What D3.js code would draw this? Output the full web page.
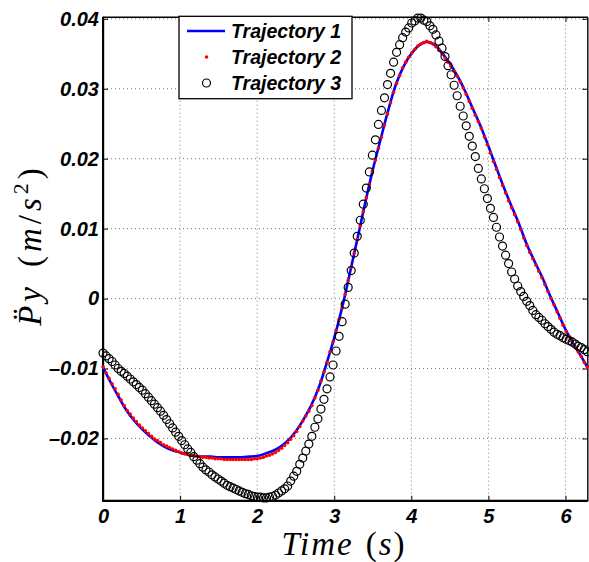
<!DOCTYPE html>
<html>
<head>
<meta charset="utf-8">
<script src="https://d3js.org/d3.v7.min.js"></script>
<style>
body { margin: 0; background: #fff; }
.tick text { font-family: "Liberation Sans", Arial, sans-serif; font-weight: bold; font-style: italic; font-size: 20px; fill: #000; }
</style>
</head>
<body>
<svg width="589" height="562"></svg>
<script>
const xTicks = [0, 1, 2, 3, 4, 5, 6]
const yTicks = [-0.02, -0.01, 0, 0.01, 0.02, 0.03, 0.04]
const yTickLabels = ["\u20130.02", "\u20130.01", "0", "0.01", "0.02", "0.03", "0.04"]
const legendNames = ["Trajectory 1", "Trajectory 2", "Trajectory 3"]

// trajectory 1: one value every 0.1 s, the last one at 2*pi
const traj1 = [
  -0.0098,-0.0120,-0.0140,-0.0159,-0.0174,-0.0186,-0.0196,-0.0205,-0.0212,-0.0217,
  -0.0220,-0.0223,-0.0225,-0.0226,-0.0226,-0.0227,-0.0227,-0.0227,-0.0227,-0.0226,
  -0.0225,-0.0222,-0.0218,-0.0212,-0.0203,-0.0190,-0.0173,-0.0153,-0.0127,-0.0093,
  -0.0056,-0.0014,0.0035,0.0085,0.0136,0.0184,0.0227,0.0269,0.0306,0.0332,
  0.0350,0.0362,0.0367,0.0363,0.0351,0.0336,0.0318,0.0296,0.0271,0.0246,
  0.0218,0.0188,0.0159,0.0132,0.0106,0.0077,0.0053,0.0030,0.0004,-0.0020,
  -0.0044,-0.0064,-0.0082,-0.0098
]

// trajectories 2 and 3: one value every pi/80 s
const traj2 = [
  -0.0098,-0.0106,-0.0114,-0.0122,-0.0129,-0.0137,-0.0145,-0.0153,-0.0160,-0.0165,
  -0.0171,-0.0176,-0.0181,-0.0185,-0.0189,-0.0193,-0.0197,-0.0201,-0.0203,-0.0206,
  -0.0209,-0.0211,-0.0213,-0.0215,-0.0217,-0.0219,-0.0221,-0.0222,-0.0223,-0.0224,
  -0.0225,-0.0225,-0.0226,-0.0227,-0.0227,-0.0228,-0.0228,-0.0229,-0.0229,-0.0229,
  -0.0230,-0.0230,-0.0230,-0.0230,-0.0230,-0.0230,-0.0230,-0.0230,-0.0230,-0.0230,
  -0.0229,-0.0229,-0.0228,-0.0227,-0.0225,-0.0224,-0.0222,-0.0220,-0.0217,-0.0214,
  -0.0210,-0.0206,-0.0201,-0.0196,-0.0190,-0.0183,-0.0175,-0.0168,-0.0161,-0.0153,
  -0.0142,-0.0131,-0.0118,-0.0105,-0.0091,-0.0076,-0.0062,-0.0046,-0.0030,-0.0013,
  0.0006,0.0026,0.0045,0.0065,0.0084,0.0104,0.0124,0.0144,0.0163,0.0182,
  0.0198,0.0215,0.0231,0.0248,0.0264,0.0280,0.0295,0.0308,0.0319,0.0330,
  0.0338,0.0345,0.0351,0.0356,0.0361,0.0364,0.0366,0.0368,0.0366,0.0364,
  0.0360,0.0355,0.0350,0.0344,0.0338,0.0332,0.0325,0.0318,0.0310,0.0301,
  0.0292,0.0282,0.0272,0.0262,0.0253,0.0243,0.0231,0.0220,0.0208,0.0196,
  0.0185,0.0173,0.0162,0.0151,0.0140,0.0130,0.0120,0.0110,0.0099,0.0087,
  0.0076,0.0066,0.0057,0.0048,0.0039,0.0030,0.0020,0.0010,0.0000,-0.0009,
  -0.0019,-0.0028,-0.0038,-0.0047,-0.0054,-0.0061,-0.0069,-0.0076,-0.0083,-0.0091,
  -0.0098
]
const traj3 = [
  -0.0078,-0.0082,-0.0086,-0.0090,-0.0095,-0.0100,-0.0104,-0.0107,-0.0111,-0.0115,
  -0.0119,-0.0123,-0.0127,-0.0131,-0.0136,-0.0141,-0.0146,-0.0151,-0.0156,-0.0161,
  -0.0167,-0.0173,-0.0179,-0.0185,-0.0191,-0.0197,-0.0203,-0.0209,-0.0215,-0.0220,
  -0.0226,-0.0231,-0.0236,-0.0241,-0.0245,-0.0248,-0.0252,-0.0255,-0.0258,-0.0261,
  -0.0264,-0.0267,-0.0269,-0.0271,-0.0273,-0.0275,-0.0277,-0.0279,-0.0280,-0.0282,
  -0.0283,-0.0284,-0.0284,-0.0285,-0.0285,-0.0284,-0.0283,-0.0281,-0.0278,-0.0275,
  -0.0272,-0.0268,-0.0261,-0.0254,-0.0247,-0.0237,-0.0228,-0.0218,-0.0208,-0.0197,
  -0.0184,-0.0172,-0.0158,-0.0144,-0.0129,-0.0112,-0.0095,-0.0075,-0.0054,-0.0033,
  -0.0008,0.0016,0.0040,0.0065,0.0089,0.0112,0.0135,0.0158,0.0181,0.0205,
  0.0227,0.0249,0.0269,0.0287,0.0306,0.0322,0.0338,0.0352,0.0363,0.0373,
  0.0381,0.0387,0.0394,0.0397,0.0401,0.0401,0.0398,0.0396,0.0390,0.0385,
  0.0377,0.0368,0.0358,0.0346,0.0333,0.0320,0.0305,0.0290,0.0275,0.0261,
  0.0247,0.0232,0.0218,0.0203,0.0186,0.0171,0.0157,0.0143,0.0129,0.0116,
  0.0102,0.0088,0.0075,0.0062,0.0050,0.0038,0.0028,0.0018,0.0010,0.0003,
  -0.0004,-0.0010,-0.0017,-0.0023,-0.0027,-0.0031,-0.0036,-0.0040,-0.0044,-0.0048,
  -0.0051,-0.0053,-0.0056,-0.0058,-0.0060,-0.0062,-0.0065,-0.0068,-0.0070,-0.0073,
  -0.0076
]

const tEnd = 2 * Math.PI
const step = Math.PI / 80

const pLeft = 103, pRight = 587.3, pTop = 16.7, pBottom = 500.7

const svg = d3.select("svg")
const x = d3.scaleLinear().domain([0, tEnd]).range([pLeft, pRight])
const y = d3.scaleLinear().domain([-0.0289, 0.0403]).range([pBottom, pTop])

// dotted grid
const grid = svg.append("g")
grid.selectAll(".gx").data(xTicks.slice(1)).enter().append("line")
  .attr("x1", d => x(d)).attr("x2", d => x(d)).attr("y1", pTop).attr("y2", pBottom)
grid.selectAll(".gy").data(yTicks).enter().append("line")
  .attr("x1", pLeft).attr("x2", pRight).attr("y1", d => y(d)).attr("y2", d => y(d))
grid.selectAll("line").attr("stroke", "#7a7a7a").attr("stroke-width", 1).attr("stroke-dasharray", "1,3")

// axes (ticks inside, on all four sides)
const fmtY = d => yTickLabels[yTicks.indexOf(d)]
svg.append("g").attr("transform", "translate(0," + pBottom + ")")
  .call(d3.axisBottom(x).tickValues(xTicks).tickFormat(d3.format("d")).tickSizeInner(-5).tickSizeOuter(0).tickPadding(8))
svg.append("g").attr("transform", "translate(0," + pTop + ")")
  .call(d3.axisTop(x).tickValues(xTicks).tickFormat("").tickSizeInner(-5).tickSizeOuter(0))
svg.append("g").attr("transform", "translate(" + pLeft + ",0)")
  .call(d3.axisLeft(y).tickValues(yTicks).tickFormat(fmtY).tickSizeInner(-5).tickSizeOuter(0).tickPadding(4))
svg.append("g").attr("transform", "translate(" + pRight + ",0)")
  .call(d3.axisRight(y).tickValues(yTicks).tickFormat("").tickSizeInner(-5).tickSizeOuter(0))
svg.selectAll(".domain").attr("stroke", "#000").attr("stroke-width", 1.4)
svg.selectAll(".tick line").attr("stroke", "#000").attr("stroke-width", 1)
svg.append("line").attr("x1", pLeft).attr("x2", pLeft).attr("y1", pTop).attr("y2", pBottom + 1)
  .attr("stroke", "#000").attr("stroke-width", 2)
svg.append("line").attr("x1", pLeft - 1).attr("x2", pRight).attr("y1", pBottom).attr("y2", pBottom)
  .attr("stroke", "#000").attr("stroke-width", 2)

// data
const pts1 = traj1.map((v, i) => [i < traj1.length - 1 ? i / 10 : tEnd, v])
const pts2 = traj2.map((v, i) => [i * step, v])
const pts3 = traj3.map((v, i) => [i * step, v])

const line = d3.line().x(d => x(d[0])).y(d => y(d[1])).curve(d3.curveCatmullRom)
svg.append("path").datum(pts1).attr("d", line)
  .attr("fill", "none").attr("stroke", "#0000ff").attr("stroke-width", 2.6)

svg.append("g").selectAll("circle").data(pts2).enter().append("circle")
  .attr("cx", d => x(d[0])).attr("cy", d => y(d[1])).attr("r", 1.8).attr("fill", "#ff0000")

svg.append("g").selectAll("circle").data(pts3).enter().append("circle")
  .attr("cx", d => x(d[0])).attr("cy", d => y(d[1])).attr("r", 4)
  .attr("fill", "none").attr("stroke", "#000").attr("stroke-width", 1.2)

// legend
const lg = svg.append("g")
lg.append("rect").attr("x", 179).attr("y", 16.3).attr("width", 173).attr("height", 82.4)
  .attr("fill", "#fff").attr("stroke", "#000").attr("stroke-width", 1.3)
const rows = [31, 57, 83]
lg.append("line").attr("x1", 187).attr("x2", 225).attr("y1", rows[0]).attr("y2", rows[0])
  .attr("stroke", "#0000ff").attr("stroke-width", 2.6)
lg.append("circle").attr("cx", 206.5).attr("cy", rows[1]).attr("r", 1.8).attr("fill", "#ff0000")
lg.append("circle").attr("cx", 206.5).attr("cy", rows[2]).attr("r", 4)
  .attr("fill", "none").attr("stroke", "#000").attr("stroke-width", 1.2)
lg.selectAll("text").data(legendNames).enter().append("text")
  .attr("x", 231).attr("y", (d, i) => rows[i]).attr("dy", "0.36em")
  .attr("font-family", "Liberation Sans, Arial, sans-serif").attr("font-weight", "bold")
  .attr("font-style", "italic").attr("font-size", 19.5).text(d => d)

// axis titles
const serif = "'Liberation Serif', 'Times New Roman', serif"
const xl = svg.append("text").attr("x", 344).attr("y", 555).attr("text-anchor", "middle")
  .attr("font-family", serif).attr("font-size", 33).attr("letter-spacing", 2)
xl.append("tspan").attr("font-style", "italic").text("Time")
xl.append("tspan").attr("dx", 12).text("(")
xl.append("tspan").attr("font-style", "italic").text("s")
xl.append("tspan").text(")")

const yl = svg.append("text").attr("transform", "translate(41,245) rotate(-90)")
  .attr("text-anchor", "middle").attr("font-family", serif).attr("font-size", 33).attr("letter-spacing", 4)
yl.append("tspan").attr("font-style", "italic").text("P\u0308y")
yl.append("tspan").attr("dx", 16).text("(")
yl.append("tspan").attr("font-style", "italic").text("m")
yl.append("tspan").text("/")
yl.append("tspan").attr("font-style", "italic").text("s")
yl.append("tspan").attr("dy", -13).attr("font-size", 22).text("2")
yl.append("tspan").attr("dy", 13).text(")")
</script>
</body>
</html>
